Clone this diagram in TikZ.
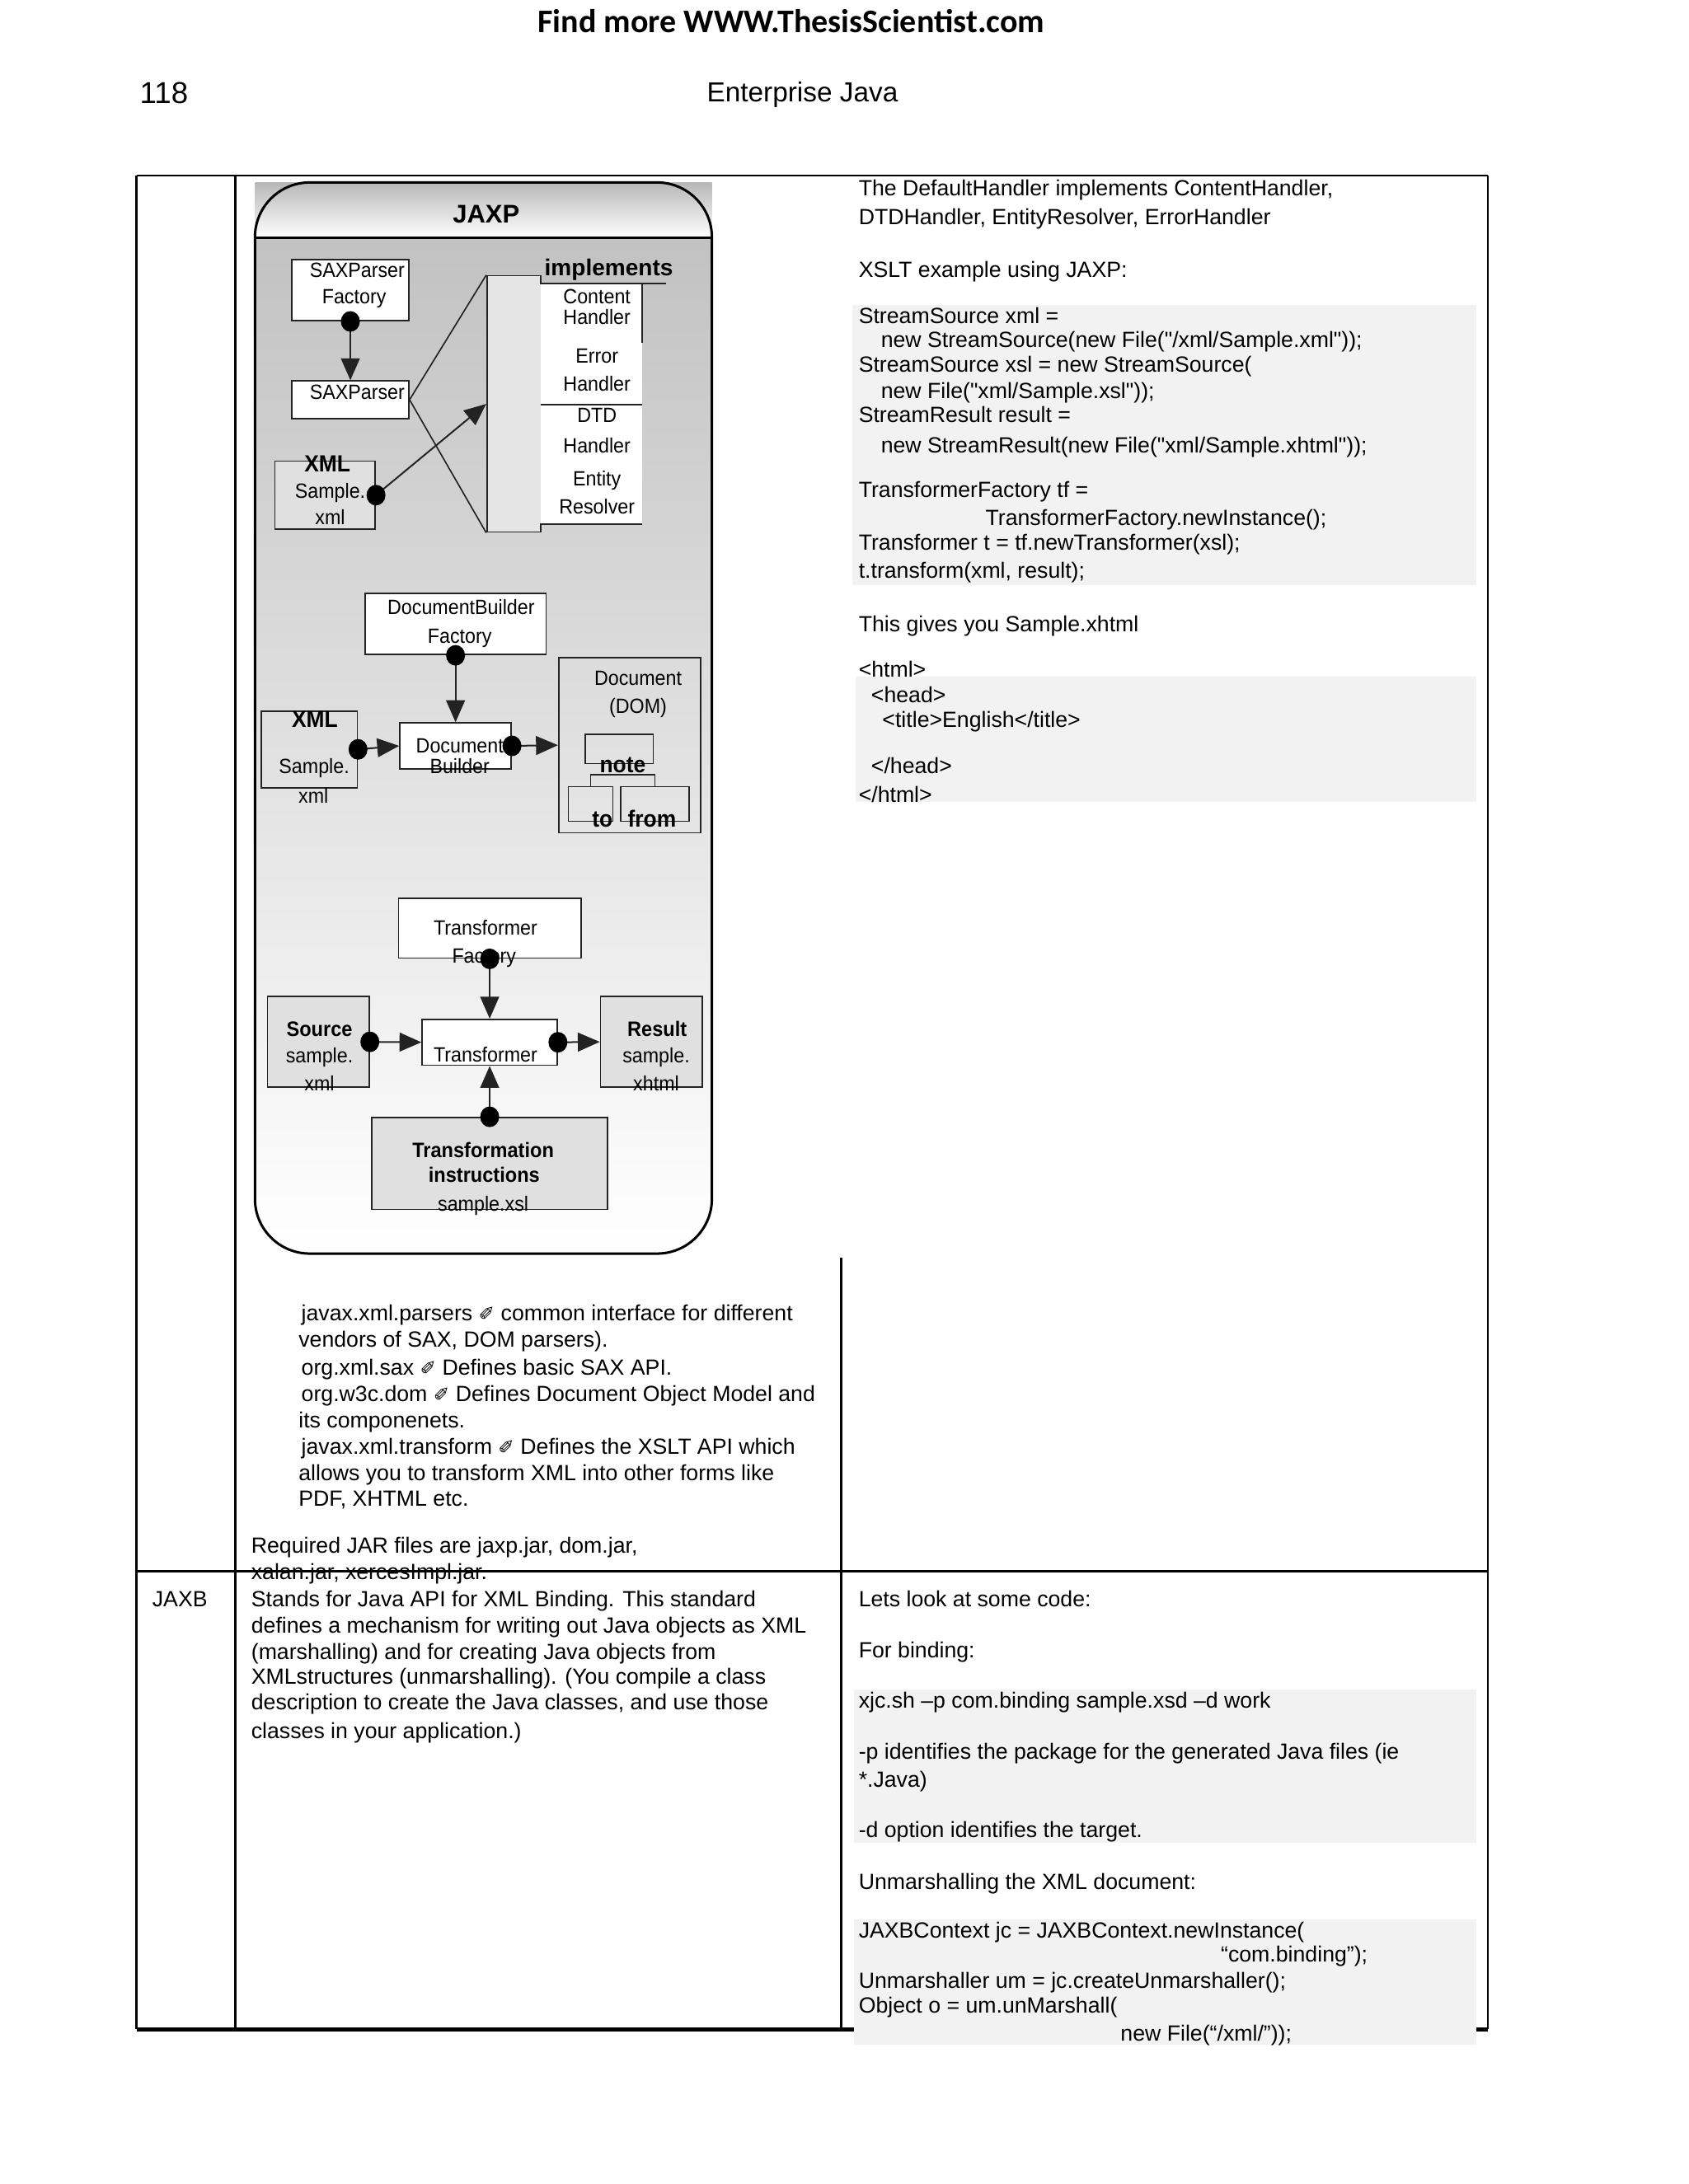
\documentclass[tikz,border=0pt]{standalone}
\usepackage{fontspec}
\setmainfont{Liberation Sans}
\newfontfamily\adfont{Carlito}
\newfontfamily\diagfont[FakeStretch=0.93]{Liberation Sans}
\newfontfamily\symfont{DejaVu Sans}
\newfontfamily\plainfont{Liberation Sans}
\usetikzlibrary{arrows.meta}

\definecolor{codebg}{RGB}{242,242,242}
\definecolor{boxbg}{RGB}{224,224,224}
\definecolor{barbg}{RGB}{229,229,229}
\definecolor{inkgray}{RGB}{35,35,35}

\newdimen\px \px=0.017813cm
\newcommand{\hand}{{\symfont\fontsize{7}{8}\selectfont ✐}}
\newcommand{\dq}{{\plainfont\char34}}
\newcommand{\dotat}[1]{\fill[black] (#1) circle[x radius=6.8, y radius=7.4];}

\tikzset{
  sz/.style n args={2}{minimum width=#1*\px, minimum height=#2*\px},
  txt/.style={anchor=west, inner sep=0pt, text height=6pt, text depth=1.7pt,
    font=\fontsize{8}{9.3}\selectfont},
  lbl/.style={inner sep=0pt, text height=5.4pt, text depth=1.6pt,
    font=\diagfont\fontsize{7.5}{9.4}\selectfont},
  blbl/.style={lbl, font=\diagfont\bfseries\fontsize{7.6}{9.4}\selectfont},
  bigb/.style={lbl, font=\diagfont\bfseries\fontsize{8.5}{10}\selectfont},
  box/.style={draw=inkgray, line width=0.5pt, fill=white, inner sep=0pt},
  gbox/.style={box, fill=boxbg},
  obox/.style={draw=inkgray, line width=0.5pt, inner sep=0pt},
  thinline/.style={draw=inkgray, line width=0.5pt},
  flow/.style={draw=inkgray, line width=0.6pt, -{Triangle[length=2.8mm, width=2.4mm]}},
  tblrule/.style={line width=0.8pt},
}

\begin{document}
\begin{tikzpicture}[x=0.017813cm, y=-0.017813cm]
\useasboundingbox (0,0) rectangle (1212,1568);

% running head
\node[font=\adfont\bfseries\fontsize{12}{14}\selectfont] (ad) at (568,15) {Find more WWW.ThesisScientist.com};
\node[anchor=west, inner sep=0pt, font=\fontsize{11}{13}\selectfont] (pageno) at (100,67) {118};
\node[font=\fontsize{10}{12}\selectfont] (booktitle) at (576,68) {Enterprise Java};

% table rules
\draw[tblrule] (98,126) -- (1068,126);
\draw[tblrule] (98,126) -- (98,1457);
\draw[tblrule] (169,126) -- (169,1457);
\draw[tblrule] (604,903) -- (604,1457);
\draw[tblrule] (1068,126) -- (1068,1457);
\draw[tblrule] (98,1128) -- (1068,1128);
\draw[tblrule, line width=1.4pt] (98,1457) -- (1068,1457);

% code backgrounds
\fill[codebg] (612,219) rectangle (1060,420);
\fill[codebg] (614,486) rectangle (1060,576);
\fill[codebg] (613,1213) rectangle (1060,1323);
\fill[codebg] (613,1378) rectangle (1060,1468);

% JAXP frame
\shade[top color=black!28, bottom color=white] (183,131) rectangle (511,171);
\begin{scope}
  \clip[rounded corners=0.7cm] (183,131) rectangle (511,900);
  \shade[top color=black!24, bottom color=white] (183,171) rectangle (511,900);
\end{scope}
\draw[line width=0.9pt, rounded corners=0.7cm] (183,131) rectangle (511,900);
\draw[line width=0.9pt] (183,171) -- (511,171);
\node[inner sep=0pt, font=\bfseries\fontsize{9.3}{11}\selectfont] (jaxp) at (349,154) {JAXP};

% SAX part
\node[box, sz={84}{44}] (saxf) at (251.5,208.3) {};
\node[lbl] (saxft1) at (256.4,195.3) {SAXParser};
\node[lbl] (saxft2) at (254.2,214) {Factory};
\node[box, sz={84}{27}] (saxp) at (251.5,287) {};
\node[lbl] (saxpt) at (256.4,283) {SAXParser};
\node[gbox, sz={72}{49}] (xmla) at (233.4,355.5) {};
\node[bigb] (xmlat1) at (235,335) {XML};
\node[lbl] (xmlat2) at (237,354) {Sample.};
\node[lbl] (xmlat3) at (237,373) {xml};

\node[obox, fill=barbg, sz={39}{184}] (impl) at (369,290) {};
\node[fill=white, inner sep=0pt, sz={73}{173}] (hdl) at (424.5,290) {};
\draw[thinline] (388,198) -- (388,203.5) -- (478,203.5);
\draw[thinline] (461,203.5) -- (461,246);
\draw[thinline] (388,290.5) -- (461,290.5);
\draw[thinline] (388,382) -- (388,376.5) -- (461,376.5);
\node[inner sep=0pt, font=\bfseries\fontsize{8.4}{10}\selectfont] (implt) at (437,193.5) {implements};
\foreach \y/\t [count=\i] in {214/Content,229/Handler,257/Error,277/Handler,299.5/DTD,321.5/Handler,345/Entity,365/Resolver}
  \node[lbl] (hd\i) at (428.5,\y) {\t};

\draw[thinline] (saxp.east) -- (impl.north west);
\draw[thinline] (saxp.east) -- (impl.south west);
\draw[flow] (saxf.south) -- (saxp.north);
\draw[flow] (xmla.east) -- (impl.west);

% DOM part
\node[box, sz={130}{44}] (dbf) at (327,448) {};
\node[lbl] (dbft1) at (331,437.5) {DocumentBuilder};
\node[lbl] (dbft2) at (330,458) {Factory};
\node[obox, sz={69}{55}] (xmlb) at (222,538) {};
\node[bigb] (xmlbt1) at (226,518.4) {XML};
\node[lbl] (xmlbt2) at (225.5,551.7) {Sample.};
\node[lbl] (xmlbt3) at (225,572.7) {xml};
\node[box, sz={80}{33}] (db) at (327,535.5) {};
\node[lbl] (dbt1) at (330,536.5) {Document};
\node[lbl] (dbt2) at (330,551.4) {Builder};
\node[obox, sz={102}{126}] (dom) at (452,535) {};
\node[lbl] (domt1) at (458,488) {Document};
\node[lbl] (domt2) at (458,508.5) {(DOM)};
\node[obox, sz={49}{21}] (note) at (444.5,537.7) {};
\node[bigb] (notet) at (447,550.8) {note};
\node[obox, sz={32}{25}] (tob) at (424,577.2) {};
\node[obox, sz={49}{25}] (frb) at (470,577.2) {};
\draw[thinline] (tob.north) -- ++(0,-8) -| (frb.north);
\node[bigb] (tot) at (432.4,589.8) {to};
\node[bigb] (frt) at (468,589.8) {from};

\draw[flow] (dbf.south) -- (db.north);
\draw[flow] (xmlb.east) -- (db.west);
\draw[flow] (db.east) -- (dom.west);

% XSLT part
\node[box, sz={131}{43}] (tf) at (351.5,666.4) {};
\node[lbl] (tft1) at (348.5,667.7) {Transformer};
\node[lbl] (tft2) at (347.5,687.5) {Factory};
\node[gbox, sz={73}{65}] (src) at (228.5,748) {};
\node[blbl] (srct1) at (229.3,740.1) {Source};
\node[lbl] (srct2) at (229.3,759) {sample.};
\node[lbl] (srct3) at (229.3,779.2) {xml};
\node[box, sz={97}{33}] (tr) at (351.5,748.3) {};
\node[lbl] (trt) at (348.5,758.5) {Transformer};
\node[gbox, sz={73}{65}] (res) at (467.5,748) {};
\node[blbl] (rest1) at (471.7,740.1) {Result};
\node[lbl] (rest2) at (471,759) {sample.};
\node[lbl] (rest3) at (471,779.2) {xhtml};
\node[gbox, sz={169}{66}] (ti) at (351.5,835.3) {};
\node[blbl] (tit1) at (346.8,827.5) {Transformation};
\node[blbl] (tit2) at (347.5,845.3) {instructions};
\node[lbl] (tit3) at (346.8,866) {sample.xsl};

\draw[flow] (tf.south) -- (tr.north);
\draw[flow] (src.east) -- (tr.west);
\draw[flow] (tr.east) -- (res.west);
\draw[flow] (ti.north) -- (tr.south);

% connector dots
\dotat{saxf.south}
\dotat{xmla.east}
\dotat{dbf.south}
\dotat{xmlb.east}
\dotat{db.east}
\dotat{tf.south}
\dotat{src.east}
\dotat{tr.east}
\dotat{ti.north}

% packages list
\foreach \y/\x/\t [count=\i] in {
  944/216/{javax.xml.parsers \hand{} common interface for different},
  963/214/{vendors of SAX, DOM parsers).},
  983/216/{org.xml.sax \hand{} Defines basic SAX API.},
  1002/216/{org.w3c.dom \hand{} Defines Document Object Model and},
  1021/214/{its componenets.},
  1040/216/{javax.xml.transform \hand{} Defines the XSLT API which},
  1059/214/{allows you to transform XML into other forms like},
  1077/214/{PDF, XHTML etc.},
  1111/180/{Required JAR files are jaxp.jar, dom.jar,},
  1130/180/{xalan.jar, xercesImpl.jar.}}
  \node[txt] (pk\i) at (\x,\y) {\t};

% JAXB row
\node[txt] (jaxb) at (109,1149) {JAXB};
\foreach \y/\t [count=\i] in {
  1149/{Stands for Java API for XML Binding. This standard},
  1168/{defines a mechanism for writing out Java objects as XML},
  1187/{(marshalling) and for creating Java objects from},
  1205/{XMLstructures (unmarshalling). (You compile a class},
  1223/{description to create the Java classes, and use those},
  1244/{classes in your application.)}}
  \node[txt] (jb\i) at (180,\y) {\t};

% right column, JAXP row
\foreach \y/\x/\t [count=\i] in {
  136/616/{The DefaultHandler implements ContentHandler,},
  157/616/{DTDHandler, EntityResolver, ErrorHandler},
  195/616/{XSLT example using JAXP:},
  228/616/{StreamSource xml =},
  245/632/{new StreamSource(new File(\dq/xml/Sample.xml\dq));},
  263/616/{StreamSource xsl = new StreamSource(},
  282/632/{new File(\dq xml/Sample.xsl\dq));},
  299/616/{StreamResult result =},
  321/632/{new StreamResult(new File(\dq xml/Sample.xhtml\dq));},
  353/616/{TransformerFactory tf =},
  373/707/{TransformerFactory.newInstance();},
  391/616/{Transformer t = tf.newTransformer(xsl);},
  411/616/{t.transform(xml, result);},
  449/616/{This gives you Sample.xhtml},
  482/616/{<html>},
  500/625/{<head>},
  518/633/{<title>English</title>},
  551/625/{</head>},
  572/616/{</html>}}
  \node[txt] (xs\i) at (\x,\y) {\t};

% right column, JAXB row
\foreach \y/\x/\t [count=\i] in {
  1149/616/{Lets look at some code:},
  1186/616/{For binding:},
  1222/616/{xjc.sh –p com.binding sample.xsd –d work},
  1259/616/{-p identifies the package for the generated Java files (ie},
  1279/616/{*.Java)},
  1315/616/{-d option identifies the target.},
  1352/616/{Unmarshalling the XML document:},
  1387/616/{JAXBContext jc = JAXBContext.newInstance(},
  1404/876/{“com.binding”);},
  1423/616/{Unmarshaller um = jc.createUnmarshaller();},
  1441/616/{Object o = um.unMarshall(},
  1461/804/{new File(“/xml/”));}}
  \node[txt] (jc\i) at (\x,\y) {\t};
\end{tikzpicture}
\end{document}
